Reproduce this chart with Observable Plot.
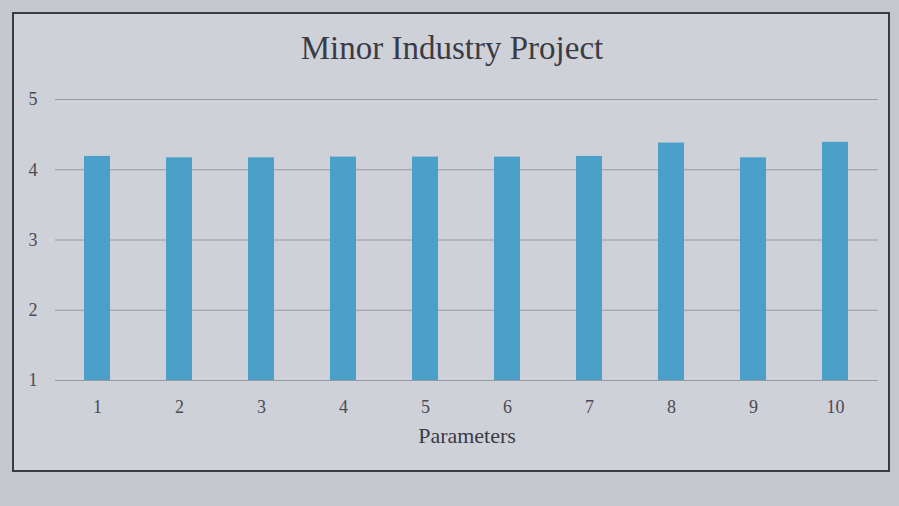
<!DOCTYPE html>
<html>
<head>
<meta charset="utf-8">
<script src="https://cdn.jsdelivr.net/npm/d3@7"></script>
<script src="https://cdn.jsdelivr.net/npm/@observablehq/plot@0.6"></script>
<style>
  html, body { margin: 0; padding: 0; }
  body { width: 899px; height: 506px; background: #c5c7cf; position: relative; overflow: hidden; font-family: "Liberation Serif", "DejaVu Serif", serif; }
  #frame { position: absolute; left: 12px; top: 12px; width: 874px; height: 456px; border: 2px solid #3a3a40; background: #cfd1d8; }
  #title { position: absolute; left: 0; width: 904px; top: 30px; text-align: center; font-size: 33px; color: #3b3b45; font-family: "Liberation Serif", serif; }
  #chart { position: absolute; left: 0; top: 0; }
</style>
</head>
<body>
<div id="frame"></div>
<div id="title">Minor Industry Project</div>
<div id="chart"></div>
<script>
const categories = ["1", "2", "3", "4", "5", "6", "7", "8", "9", "10"];
const values = [4.19, 4.17, 4.17, 4.18, 4.18, 4.18, 4.19, 4.38, 4.17, 4.39];
const yTicks = [1, 2, 3, 4, 5];
const xLabel = "Parameters";

const data = categories.map((c, i) => ({ param: c, value: values[i] }));

const chart = Plot.plot({
  width: 899,
  height: 506,
  marginLeft: 55,
  marginRight: 21,
  marginTop: 99,
  marginBottom: 126,
  style: { background: "transparent", fontFamily: "Liberation Serif, serif", fontSize: "18px", color: "#4a4a52" },
  x: { domain: categories, paddingInner: 0.68, paddingOuter: 0.32 },
  y: { domain: [1, 5] },
  marks: [
    Plot.gridY(yTicks, { stroke: "#989aa2", strokeOpacity: 1, strokeWidth: 1 }),
    Plot.rectY(data, { x: "param", y1: 1, y2: "value", fill: "#4aa0c9" }),
    Plot.ruleY([1], { stroke: "#989aa2" }),
    Plot.axisY(yTicks, { tickSize: 0, tickPadding: 18, tickFormat: "d", label: null, fontSize: 18, fill: "#4a4a52" }),
    Plot.axisX({ tickSize: 0, tickPadding: 20, label: xLabel, labelAnchor: "center", labelArrow: "none", labelOffset: 62, fontSize: 18, fill: "#4a4a52" })
  ]
});
chart.querySelectorAll("g[aria-label='x-axis label'] text").forEach(t => { t.setAttribute("font-size", "22"); t.style.fontSize = "22px"; t.setAttribute("fill", "#3b3b45"); });
document.getElementById("chart").appendChild(chart);
</script>
</body>
</html>
